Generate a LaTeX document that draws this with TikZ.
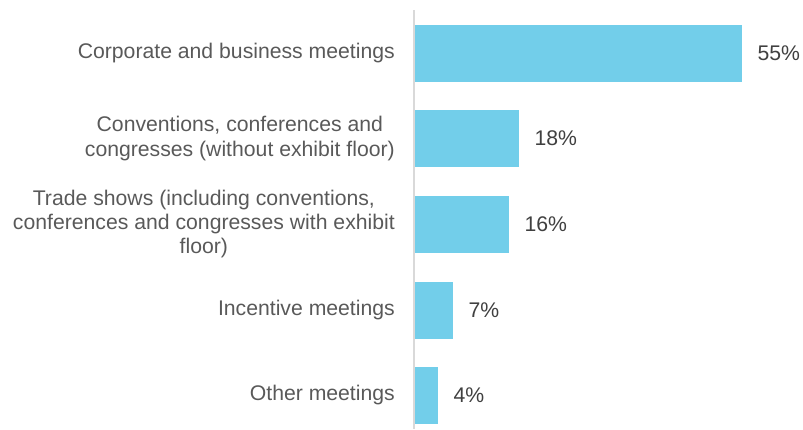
\documentclass[tikz,border=0pt]{standalone}
\usepackage{fontspec}
\setmainfont{Liberation Sans}
\usepackage{xcolor}
\usetikzlibrary{positioning}

\definecolor{barblue}{RGB}{114,206,234}
\definecolor{axisgray}{RGB}{217,217,217}
\definecolor{labelgray}{RGB}{89,89,89}
\definecolor{valuegray}{RGB}{64,64,64}

\tikzset{
  bar/.style={draw=none, fill=barblue, rectangle, anchor=west, inner sep=0pt, minimum height=57pt},
  cat/.style={anchor=east, align=center, inner sep=0pt, text=labelgray, font=\fontsize{21.2}{24.2}\selectfont},
  val/.style={right=15pt of #1, inner sep=0pt, text=valuegray, font=\fontsize{21.2}{24.2}\selectfont}
}

\begin{document}
\begin{tikzpicture}[x=1pt, y=-1pt]
\useasboundingbox (0,0) rectangle (803,429);

% Axis
\coordinate (axtop) at (413.5,10);
\coordinate (axbot) at (413.5,429);
\draw[axisgray, line width=2pt] (axtop) -- (axbot);

% Bars
\node[bar, minimum width=327pt] (corporate) at (415,53.5) {};
\node[bar, minimum width=104pt] (conventions) at (415,138.5) {};
\node[bar, minimum width=94pt] (trade) at (415,224) {};
\node[bar, minimum width=38pt] (incentive) at (415,310) {};
\node[bar, minimum width=23pt] (other) at (415,395.5) {};

% Category labels
\node[cat] (corporatelbl) at (395,53.5) {Corporate and business meetings};
\node[cat] (conventionslbl) at (395,138.5) {Conventions, conferences and\\congresses (without exhibit floor)};
\node[cat] (tradelbl) at (395,224) {Trade shows (including conventions,\\conferences and congresses with exhibit\\floor)};
\node[cat] (incentivelbl) at (395,310) {Incentive meetings};
\node[cat] (otherlbl) at (395,395.5) {Other meetings};

% Values
\node[val=corporate] (corporateval) {55\%};
\node[val=conventions] (conventionsval) {18\%};
\node[val=trade] (tradeval) {16\%};
\node[val=incentive] (incentiveval) {7\%};
\node[val=other] (otherval) {4\%};

\end{tikzpicture}
\end{document}
